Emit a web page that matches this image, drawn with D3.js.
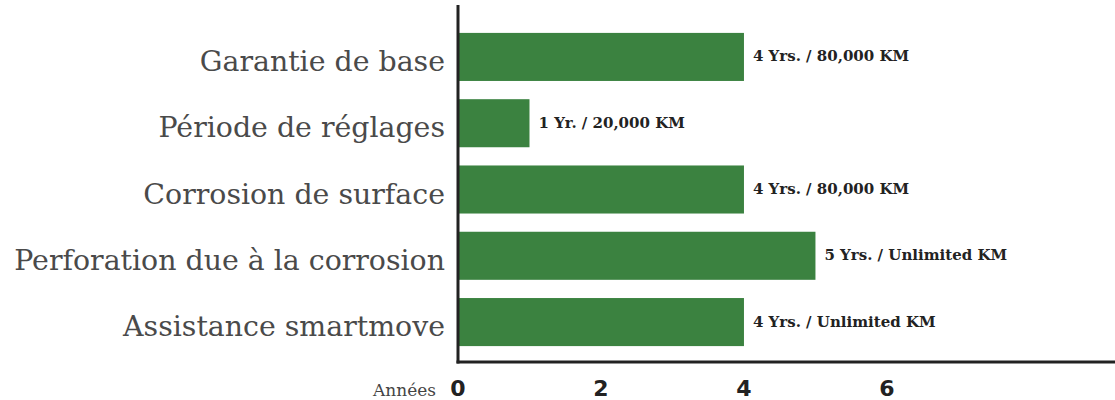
<!DOCTYPE html>
<html>
<head>
<meta charset="utf-8">
<script src="https://cdn.jsdelivr.net/npm/d3@7"></script>
<style>
  body { margin: 0; background: #fff; }
</style>
</head>
<body>
<div id="chart"></div>
<script>
const categories = ["Garantie de base", "Période de réglages", "Corrosion de surface", "Perforation due à la corrosion", "Assistance smartmove"]
const years = [4, 1, 4, 5, 4]
const barLabels = ["4 Yrs. / 80,000 KM", "1 Yr. / 20,000 KM", "4 Yrs. / 80,000 KM", "5 Yrs. / Unlimited KM", "4 Yrs. / Unlimited KM"]
const tickValues = [0, 2, 4, 6]
const axisTitle = "Années"

const width = 1115, height = 400
const margin = { top: 17, right: 0, bottom: 38, left: 458 }

const svg = d3.select("#chart").append("svg")
    .attr("width", width)
    .attr("height", height)

const x = d3.scaleLinear()
    .domain([0, 9.19])
    .range([margin.left, width])

const y = d3.scaleBand()
    .domain(categories)
    .range([margin.top, 362])
    .paddingInner(0.275)
    .paddingOuter(0.24)

// bars
svg.append("g")
    .selectAll("rect")
    .data(categories)
    .join("rect")
    .attr("x", x(0))
    .attr("y", d => y(d))
    .attr("width", (d, i) => x(years[i]) - x(0))
    .attr("height", y.bandwidth())
    .attr("fill", "#3b8240")

// value labels
svg.append("g")
    .selectAll("text")
    .data(categories)
    .join("text")
    .attr("x", (d, i) => x(years[i]) + 9)
    .attr("y", d => y(d) + y.bandwidth() / 2)
    .attr("dy", "0.3em")
    .attr("font-family", "DejaVu Serif")
    .attr("font-weight", "bold")
    .attr("font-size", 15)
    .attr("fill", "#222")
    .text((d, i) => barLabels[i])

// category labels
svg.append("g")
    .selectAll("text")
    .data(categories)
    .join("text")
    .attr("x", margin.left - 13)
    .attr("y", d => y(d) + y.bandwidth() / 2)
    .attr("dy", "0.5em")
    .attr("text-anchor", "end")
    .attr("font-family", "DejaVu Serif")
    .attr("font-size", 28.4)
    .attr("fill", "#4a4a4a")
    .text(d => d)

// axis lines
svg.append("line")
    .attr("x1", x(0)).attr("x2", x(0))
    .attr("y1", 5).attr("y2", 363.5)
    .attr("stroke", "#222").attr("stroke-width", 3)
svg.append("line")
    .attr("x1", x(0) - 1.5).attr("x2", width)
    .attr("y1", 362).attr("y2", 362)
    .attr("stroke", "#222").attr("stroke-width", 3)

// tick labels
svg.append("g")
    .selectAll("text")
    .data(tickValues)
    .join("text")
    .attr("x", d => x(d))
    .attr("y", 396)
    .attr("text-anchor", "middle")
    .attr("font-family", "DejaVu Sans")
    .attr("font-weight", "bold")
    .attr("font-size", 22)
    .attr("fill", "#222")
    .text(d => d)

svg.append("text")
    .attr("x", 436)
    .attr("y", 396)
    .attr("text-anchor", "end")
    .attr("font-family", "DejaVu Serif")
    .attr("font-size", 17)
    .attr("fill", "#444")
    .text(axisTitle)
</script>
</body>
</html>
